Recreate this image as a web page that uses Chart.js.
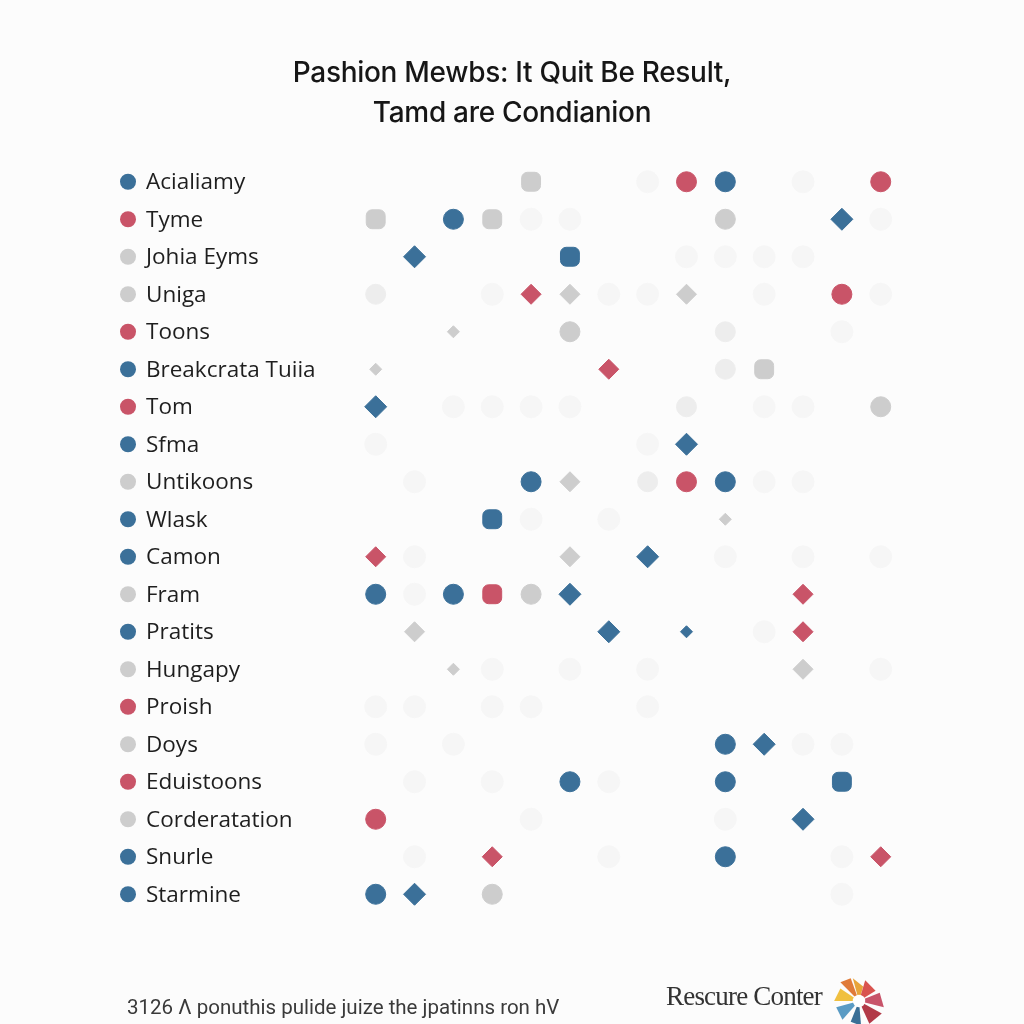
<!DOCTYPE html>
<html>
<head>
<meta charset="utf-8">
<script src="https://cdn.jsdelivr.net/npm/chart.js@4.4.1/dist/chart.umd.min.js"></script>
<style>
  html, body { margin: 0; padding: 0; background: #fcfcfc; }
  #wrap { position: relative; width: 1024px; height: 1024px; overflow: hidden; }
  #chart { position: absolute; left: 0; top: 0; }
  .title {
    position: absolute; left: 0; width: 1024px; text-align: center;
    font-family: Inter, Roboto, sans-serif; font-weight: 500;
    font-size: 28px; color: #161616; line-height: 40px; letter-spacing: -0.3px;
  }
  .foot-left {
    position: absolute; left: 127px; top: 995px;
    font-family: Roboto, "Liberation Sans", sans-serif; font-size: 20.5px; color: #3a3a3a;
  }
  .foot-right {
    position: absolute; left: 666px; top: 981px;
    font-family: "Liberation Serif", "DejaVu Serif", serif; font-size: 27px; color: #333;
    letter-spacing: -0.8px;
  }
  #logo { position: absolute; left: 830px; top: 976px; }
</style>
</head>
<body>
<div id="wrap">
  <canvas id="chart" width="1024" height="1024"></canvas>
  <div class="title" style="top:52px">Pashion Mewbs: It Quit Be Result,</div>
  <div class="title" style="top:92px">Tamd are Condianion</div>
  <div class="foot-left">3126 Λ ponuthis pulide juize the jpatinns ron hV</div>
  <div class="foot-right">Rescure Conter</div>
  <svg id="logo" width="58" height="50" viewBox="0 0 56 48">
    <polygon points="28,24 22,2 32,10" fill="#e8a53a"/>
    <polygon points="28,24 34,4 44,14" fill="#d9534f"/>
    <polygon points="28,24 48,16 52,30" fill="#c8546a"/>
    <polygon points="28,24 50,36 38,46" fill="#b23a48"/>
    <polygon points="28,24 30,48 20,44" fill="#3a6f96"/>
    <polygon points="28,24 12,42 6,30" fill="#5a9bc4"/>
    <polygon points="28,24 4,24 10,12" fill="#f0c040"/>
    <polygon points="28,24 10,6 20,2" fill="#e07b39"/>
    <circle cx="28" cy="24" r="6" fill="#ffffff"/>
  </svg>
</div>

<script>
/* ---- Dados ---- */
const rows = ['Acialiamy', 'Tyme', 'Johia Eyms', 'Uniga', 'Toons', 'Breakcrata Tuiia', 'Tom', 'Sfma',
  'Untikoons', 'Wlask', 'Camon', 'Fram', 'Pratits', 'Hungapy', 'Proish', 'Doys', 'Eduistoons',
  'Corderatation', 'Snurle', 'Starmine'];

// cor do ponto da legenda de cada linha
const rowColors = ['blue', 'red', 'grey', 'grey', 'red', 'blue', 'red', 'blue', 'grey', 'blue',
  'blue', 'grey', 'blue', 'grey', 'red', 'grey', 'red', 'grey', 'blue', 'blue'];

// [coluna, linha]
const blueCircles  = [[9,0],[2,1],[4,8],[9,8],[0,11],[2,11],[9,15],[5,16],[9,16],[9,18],[0,19]];
const redCircles   = [[8,0],[13,0],[12,3],[8,8],[0,17]];
const greyCircles  = [[9,1],[5,4],[4,11],[3,19],[13,6]];
const paleCircles  = [[0,3],[9,4],[8,6],[7,8],[9,5]];
const blueDiamonds = [[1,2],[12,1],[0,6],[8,7],[7,10],[5,11],[6,12],[10,15],[11,17],[1,19]];
const redDiamonds  = [[4,3],[6,5],[0,10],[11,11],[11,12],[3,18],[13,18]];
const greyDiamonds = [[5,3],[8,3],[5,8],[5,10],[1,12],[11,13]];
const smallDiamonds = [[0,5],[9,9],[2,13],[2,4]];
const smallBlue    = [[8,12]];
const blueSquares  = [[5,2],[3,9],[12,16]];
const greySquares  = [[4,0],[0,1],[3,1],[10,5]];
const redSquares   = [[3,11]];
const faintMarks   = [[7,0],[11,0],[4,1],[5,1],[13,1],[8,2],[9,2],[10,2],[11,2],[3,3],[6,3],[7,3],
  [10,3],[13,3],[12,4],[2,6],[3,6],[4,6],[5,6],[10,6],[11,6],[0,7],[7,7],[1,8],[10,8],[11,8],
  [4,9],[6,9],[1,10],[9,10],[11,10],[13,10],[1,11],[10,12],[3,13],[5,13],[7,13],[13,13],
  [0,14],[1,14],[3,14],[4,14],[7,14],[0,15],[2,15],[11,15],[12,15],[1,16],[3,16],[6,16],
  [4,17],[9,17],[1,18],[6,18],[12,18],[12,19]];

const COLORS = { blue: '#3b7099', red: '#c95468', grey: '#cdcdcd' };

const toPts = arr => arr.map(([c, r]) => ({ x: c, y: rows[r] }));

function ds(arr, color, style, radius, border = 1) {
  return {
    data: toPts(arr),
    pointStyle: style,
    pointRadius: radius,
    pointBackgroundColor: color,
    pointBorderColor: color,
    pointBorderWidth: border,
    showLine: false,
    clip: false,
  };
}

/* ---- Rótulos + pontos da legenda ---- */
const rowLabels = {
  id: 'rowLabels',
  afterDraw(chart) {
    const { ctx, scales: { y } } = chart;
    ctx.save();
    ctx.font = '22.5px "Open Sans", Roboto, sans-serif';
    ctx.textBaseline = 'middle';
    rows.forEach((name, i) => {
      const py = y.getPixelForValue(i);
      ctx.beginPath();
      ctx.arc(128, py, 8, 0, Math.PI * 2);
      ctx.fillStyle = COLORS[rowColors[i]];
      ctx.fill();
      ctx.fillStyle = '#1e1e1e';
      ctx.fillText(name, 146, py + 1);
    });
    ctx.restore();
  }
};

new Chart(document.getElementById('chart'), {
  type: 'scatter',
  data: {
    datasets: [
      ds(faintMarks, '#f6f6f6', 'circle', 11),
      ds(faintMarks, '#b8b8b8', 'cross', 5, 1.3),
      ds(paleCircles, '#ededed', 'circle', 10),
      ds(greySquares, COLORS.grey, 'rectRounded', 11),
      ds(blueSquares, COLORS.blue, 'rectRounded', 11),
      ds(redSquares, COLORS.red, 'rectRounded', 11),
      ds(greyCircles, COLORS.grey, 'circle', 10),
      ds(blueCircles, COLORS.blue, 'circle', 10),
      ds(redCircles, COLORS.red, 'circle', 10),
      ds(greyDiamonds, COLORS.grey, 'rectRot', 10),
      ds(smallDiamonds, COLORS.grey, 'rectRot', 6),
      ds(smallBlue, COLORS.blue, 'rectRot', 6),
      ds(blueDiamonds, COLORS.blue, 'rectRot', 11),
      ds(redDiamonds, COLORS.red, 'rectRot', 10),
    ],
  },
  options: {
    responsive: false,
    animation: false,
    layout: { padding: { left: 298, right: 85, top: 163, bottom: 111 } },
    plugins: { legend: { display: false }, tooltip: { enabled: false }, title: { display: false } },
    scales: {
      x: { type: 'linear', min: -2, max: 14.5, display: false },
      y: { type: 'category', labels: rows, offset: true, display: false },
    },
  },
  plugins: [rowLabels],
});
</script>
</body>
</html>
